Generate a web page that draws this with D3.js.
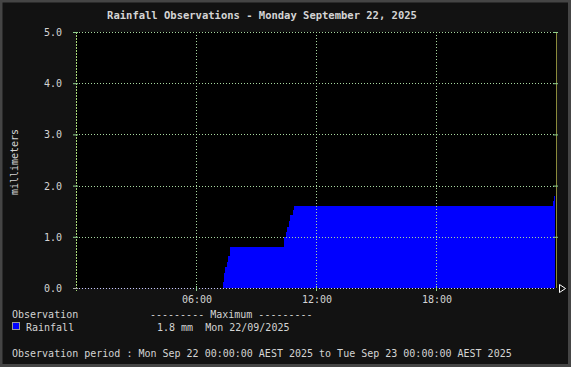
<!DOCTYPE html>
<meta charset="utf-8">
<script src="https://d3js.org/d3.v7.min.js"></script>
<style>
  body { margin: 0; background: #121212; }
  text { font-family: "DejaVu Sans Mono", monospace; fill: #d4d4d4; }
</style>
<div id="rain"></div>
<script>

    // cumulative rainfall, hours since midnight and mm
    var hours  = [0, 7.35, 7.4, 7.45, 7.55, 7.6, 7.7, 10.4, 10.5, 10.55, 10.65, 10.7, 10.85, 10.9, 23.85, 23.9, 23.95];
    var values = [0, 0.12, 0.29, 0.41, 0.51, 0.62, 0.8, 1.0, 1.1, 1.2, 1.3, 1.43, 1.52, 1.6, 1.7, 1.8, 1.8];
    var yTicks = [0, 1, 2, 3, 4, 5];
    var xTicks = [6, 12, 18];
    var xTickLabels = ["06:00", "12:00", "18:00"];

    var W = 571, H = 367;
    var margin = {top: 32, right: 15, bottom: 79, left: 76},
        width = 480,
        height = 256;

    var root = d3.select("#rain").append("svg")
        .attr("width", W)
        .attr("height", H);

    // outer frame
    root.append("rect")
        .attr("x", 1).attr("y", 1)
        .attr("width", W - 2.5).attr("height", H - 2.5)
        .attr("fill", "#121212")
        .attr("stroke", "#454545")
        .attr("stroke-width", 3);

    root.append("text")
        .attr("x", 262)
        .attr("y", 19)
        .attr("text-anchor", "middle")
        .attr("font-size", "10.5px")
        .attr("font-weight", "bold")
        .attr("fill", "#dcdcdc")
        .text("Rainfall Observations - Monday September 22, 2025");

    var svg = root.append("g")
        .attr("transform", "translate(" + margin.left + "," + margin.top + ")");

    var x = d3.scaleLinear().domain([0, 24]).range([0, width]);
    var y = d3.scaleLinear().domain([0, 5]).range([height, 0]);

    svg.append("rect")
        .attr("width", width).attr("height", height)
        .attr("fill", "#000");

    var data = hours.map(function(h, i) { return {h: h, v: values[i]}; });

    var area = d3.area()
        .curve(d3.curveStepAfter)
        .x(function(d) { return x(d.h); })
        .y0(y(0))
        .y1(function(d) { return y(d.v); });

    svg.append("path")
        .datum(data)
        .attr("d", area)
        .attr("fill", "#0000ff")
        .attr("shape-rendering", "crispEdges");

    // dotted grid
    var grid = svg.append("g").attr("shape-rendering", "crispEdges");
    grid.selectAll(".gy")
        .data(yTicks)
        .enter().append("line")
        .attr("x1", 0).attr("x2", width)
        .attr("y1", function(d) { return y(d) + 0.5; })
        .attr("y2", function(d) { return y(d) + 0.5; })
        .attr("stroke", function(d) { return d == 0 ? "#c8c8ff" : "#a8d8a0"; })
        .attr("stroke-dasharray", "1,2");
    grid.selectAll(".gx")
        .data(xTicks)
        .enter().append("line")
        .attr("x1", function(d) { return x(d) + 0.5; })
        .attr("x2", function(d) { return x(d) + 0.5; })
        .attr("y1", 0).attr("y2", height)
        .attr("stroke", "#a8d8a0")
        .attr("stroke-dasharray", "1,2");

    // left axis line and ticks
    svg.append("line")
        .attr("x1", 0.5).attr("x2", 0.5)
        .attr("y1", 0).attr("y2", height + 3)
        .attr("stroke", "#a8d878")
        .attr("stroke-dasharray", "2,1");
    svg.append("line")
        .attr("x1", width + 0.5).attr("x2", width + 0.5)
        .attr("y1", 0).attr("y2", height)
        .attr("stroke", "#8a8a3a");

    svg.selectAll(".tl")
        .data(yTicks)
        .enter().append("line")
        .attr("x1", -3).attr("x2", 2)
        .attr("y1", function(d) { return y(d) + 0.5; })
        .attr("y2", function(d) { return y(d) + 0.5; })
        .attr("stroke", function(d) { return d == 0 ? "#aaa" : "#8fd08f"; });
    svg.selectAll(".tr")
        .data(yTicks.slice(1))
        .enter().append("line")
        .attr("x1", width - 3).attr("x2", width + 2)
        .attr("y1", function(d) { return y(d) + 0.5; })
        .attr("y2", function(d) { return y(d) + 0.5; })
        .attr("stroke", "#8fd08f");
    svg.selectAll(".tb")
        .data(xTicks)
        .enter().append("line")
        .attr("x1", function(d) { return x(d) + 0.5; })
        .attr("x2", function(d) { return x(d) + 0.5; })
        .attr("y1", height - 2).attr("y2", height + 3)
        .attr("stroke", "#8fd08f");

    // arrow at end of x axis
    svg.append("path")
        .attr("d", "M" + (width + 3.5) + "," + (height - 3.5) + "L" + (width + 9.5) + "," + (height + 0.5) +
                   "L" + (width + 3.5) + "," + (height + 4.5) + "Z")
        .attr("fill", "none")
        .attr("stroke", "#fff");

    svg.selectAll(".yl")
        .data(yTicks)
        .enter().append("text")
        .attr("x", -14)
        .attr("y", function(d) { return y(d) + 4; })
        .attr("text-anchor", "end")
        .attr("font-size", "10px")
        .text(function(d) { return d.toFixed(1); });

    svg.selectAll(".xl")
        .data(xTicks)
        .enter().append("text")
        .attr("x", function(d) { return x(d) + 1; })
        .attr("y", height + 15)
        .attr("text-anchor", "middle")
        .attr("font-size", "10px")
        .text(function(d, i) { return xTickLabels[i]; });

    root.append("text")
        .attr("transform", "translate(18,162) rotate(-90)")
        .attr("text-anchor", "middle")
        .attr("font-size", "10px")
        .text("millimeters");

    // legend
    root.append("text").attr("x", 12).attr("y", 318).attr("font-size", "10px")
        .text("Observation");
    root.append("text").attr("x", 150).attr("y", 318).attr("font-size", "10px")
        .attr("xml:space", "preserve")
        .text("--------- Maximum ---------");
    root.append("rect")
        .attr("x", 12.5).attr("y", 322.5).attr("width", 7).attr("height", 7)
        .attr("fill", "#0000ff").attr("stroke", "#999");
    root.append("text").attr("x", 26).attr("y", 331).attr("font-size", "10px")
        .text("Rainfall");
    root.append("text").attr("x", 157).attr("y", 331).attr("font-size", "10px")
        .attr("xml:space", "preserve")
        .text("1.8 mm  Mon 22/09/2025");
    root.append("text").attr("x", 12).attr("y", 357).attr("font-size", "10px")
        .text("Observation period : Mon Sep 22 00:00:00 AEST 2025 to Tue Sep 23 00:00:00 AEST 2025");

</script>
